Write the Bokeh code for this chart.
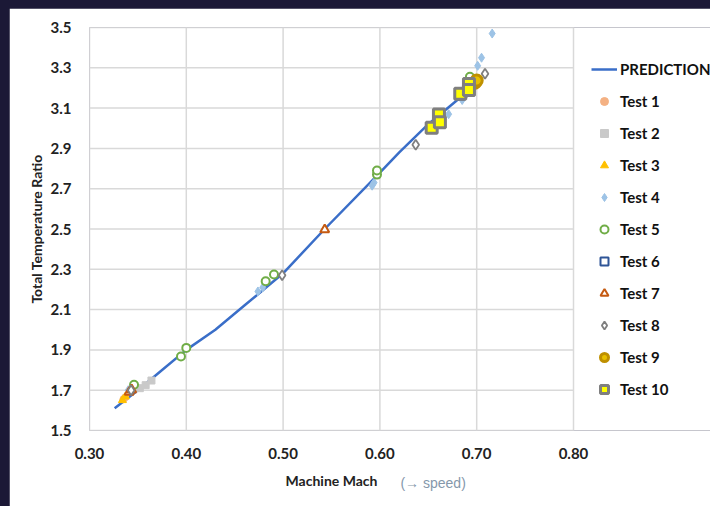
from bokeh.plotting import figure
from bokeh.models import (FixedTicker, NumeralTickFormatter, Legend, LegendItem,
                          Range1d, LinearAxis)
from bokeh.embed import file_html
from bokeh.resources import INLINE

# ---- data ----
pred_x = [0.326, 0.35, 0.375, 0.40, 0.43, 0.46, 0.50, 0.543, 0.60, 0.62, 0.65, 0.68, 0.70]
pred_y = [1.61, 1.70, 1.80, 1.90, 2.00, 2.12, 2.28, 2.50, 2.78, 2.88, 3.02, 3.14, 3.22]

t1_x = [0.335, 0.337]
t1_y = [1.655, 1.665]
t2_x = [0.352, 0.358, 0.364]
t2_y = [1.71, 1.725, 1.748]
t3_x = [0.334, 0.337]
t3_y = [1.650, 1.668]
t4_x = [0.340, 0.474, 0.479, 0.592, 0.594, 0.671, 0.685, 0.701, 0.705, 0.716]
t4_y = [1.70, 2.19, 2.21, 2.715, 2.73, 3.07, 3.14, 3.31, 3.35, 3.47]
t5_x = [0.346, 0.3945, 0.400, 0.482, 0.4906, 0.597, 0.597, 0.692, 0.693]
t5_y = [1.727, 1.867, 1.91, 2.241, 2.274, 2.77, 2.79, 3.235, 3.255]
t6_x = [0.684, 0.689]
t6_y = [3.16, 3.18]
t7_x = [0.341, 0.3436, 0.543]
t7_y = [1.69, 1.702, 2.497]
t8_x = [0.343, 0.499, 0.637, 0.690, 0.7086]
t8_y = [1.70, 2.27, 2.918, 3.18, 3.27]
t9_x = [0.698, 0.700]
t9_y = [3.225, 3.237]
t10_x = [0.6535, 0.661, 0.662, 0.683, 0.692, 0.692]
t10_y = [3.002, 3.068, 3.03, 3.171, 3.22, 3.19]

x_ticks = [0.30, 0.40, 0.50, 0.60, 0.70, 0.80]
y_ticks = [1.5, 1.7, 1.9, 2.1, 2.3, 2.5, 2.7, 2.9, 3.1, 3.3, 3.5]
x_title = "Machine Mach"
x_title_at = 0.55
speed_note = "(\u2192 speed)"
speed_note_at = 0.655

FONT = "Lato"

# plot area (0.30-0.80) is 484 px wide; the frame is widened so the legend fits inside it
PLOT_W = 484
FRAME_W = PLOT_W + 137
x_end = x_ticks[0] + (x_ticks[-1] - x_ticks[0]) * FRAME_W / PLOT_W

p = figure(frame_width=FRAME_W, frame_height=403, output_backend="svg", toolbar_location=None,
           x_range=Range1d(x_ticks[0], x_end), y_range=Range1d(y_ticks[0], y_ticks[-1]),
           min_border_left=80, min_border_top=19, min_border_right=0,
           min_border_bottom=76)
p.background_fill_color = "white"
p.border_fill_color = "white"
p.outline_line_color = None
p.grid.visible = False

p.xaxis.ticker = FixedTicker(ticks=x_ticks)
p.yaxis.ticker = FixedTicker(ticks=y_ticks)
p.xaxis.formatter = NumeralTickFormatter(format="0.00")
p.yaxis.formatter = NumeralTickFormatter(format="0.0")
for ax in (p.xaxis, p.yaxis):
    ax.axis_line_color = None
    ax.major_tick_line_color = None
    ax.minor_tick_line_color = None
    ax.major_label_text_font = FONT
    ax.major_label_text_font_style = "bold"
    ax.major_label_text_font_size = "15px"
    ax.major_label_text_color = "#222222"
    ax.axis_label_text_font = FONT
    ax.axis_label_text_font_style = "bold"
    ax.axis_label_text_font_size = "14px"
    ax.axis_label_text_color = "#222222"
p.xaxis.major_label_standoff = 11
p.yaxis.major_label_standoff = 12
p.yaxis.axis_label = "Total Temperature Ratio"
p.yaxis.axis_label_standoff = 3

# gridlines restricted to the 0.30-0.80 / 1.5-3.5 box
GRID = "#d9d9d9"
p.segment(x0=x_ticks[0], x1=x_ticks[-1], y0=y_ticks, y1=y_ticks,
          line_color=GRID, line_width=1.5)
p.segment(x0=x_ticks, x1=x_ticks, y0=y_ticks[0], y1=y_ticks[-1],
          line_color=GRID, line_width=1.5)

line_r = p.line(pred_x, pred_y, line_color="#3a6ec8", line_width=2.5)

r1 = p.scatter(t1_x, t1_y, marker="circle", size=7, fill_color="#F4B183", line_color="#F4B183")
r2 = p.scatter(t2_x, t2_y, marker="square", size=7, fill_color="#C9C9C9", line_color="#C9C9C9")
r3 = p.scatter(t3_x, t3_y, marker="triangle", size=8, fill_color="#FFC000", line_color="#FFC000")
r4 = p.scatter(t4_x, t4_y, marker="diamond", size=9, fill_color="#9DC3E6", line_color="#9DC3E6")
r5 = p.scatter(t5_x, t5_y, marker="circle", size=8, fill_color="white", line_color="#70AD47", line_width=2)
r6 = p.scatter(t6_x, t6_y, marker="square", size=7, fill_color="white", line_color="#2F5597", line_width=2)
r7 = p.scatter(t7_x, t7_y, marker="triangle", size=9, fill_color="white", line_color="#C55A11", line_width=2)
r8 = p.scatter(t8_x, t8_y, marker="diamond", size=10, fill_color="white", line_color="#7F7F7F", line_width=1.8)
r9 = p.scatter(t9_x, t9_y, marker="circle", size=11, fill_color="#E8C000", line_color="#BF9000", line_width=3)
r10 = p.scatter(t10_x, t10_y, marker="square", size=11, fill_color="#FFFF00", line_color="#7F7F7F", line_width=3)


def label_axis(at, text, standoff, font, style, color):
    return LinearAxis(ticker=FixedTicker(ticks=[at]), major_label_overrides={at: text},
                      axis_line_color=None, major_tick_line_color=None,
                      minor_tick_line_color=None, major_tick_out=0, major_tick_in=0,
                      minor_tick_out=0, minor_tick_in=0, major_label_standoff=standoff,
                      major_label_text_font=font, major_label_text_font_style=style,
                      major_label_text_font_size="14px", major_label_text_color=color)


# x-axis title centred under the plot box, and the grey note on the same row
p.add_layout(label_axis(x_title_at, x_title, 10, FONT, "bold", "#222222"), "below")
p.add_layout(label_axis(speed_note_at, speed_note, -17, "Liberation Sans", "normal", "#8598ab"), "below")

items = [LegendItem(label="PREDICTION", renderers=[line_r])]
for i, r in enumerate([r1, r2, r3, r4, r5, r6, r7, r8, r9, r10]):
    items.append(LegendItem(label="Test %d" % (i + 1), renderers=[r]))

legend = Legend(items=items, location=(502, 31), orientation="vertical",
                glyph_width=26, glyph_height=20, label_height=20, label_width=60,
                label_standoff=3, spacing=12, padding=0, margin=0,
                border_line_color=None, background_fill_alpha=0,
                label_text_font=FONT, label_text_font_style="bold",
                label_text_font_size="15px", label_text_color="#111111")
p.add_layout(legend, "center")

html = file_html(p, INLINE)
html = html.replace("</head>",
                    "<style>html, body { background-color: #1b1836 !important; overflow: hidden; } "
                    "body { padding: 8px 0 0 9px !important; }</style></head>", 1)
open("out.html", "w").write(html)
